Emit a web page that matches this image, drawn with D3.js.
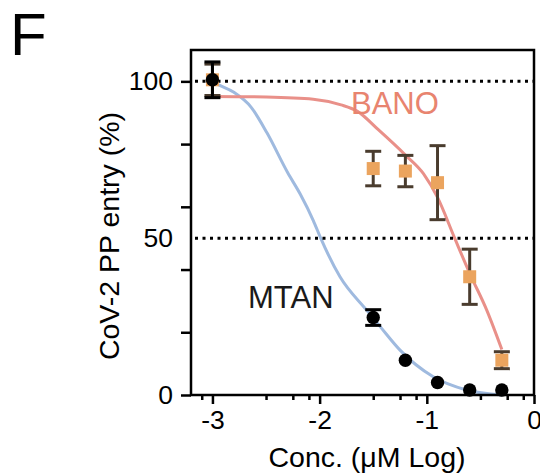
<!DOCTYPE html>
<html>
<head>
<meta charset="utf-8">
<script src="https://cdn.jsdelivr.net/npm/d3@7"></script>
<style>
  html, body { margin: 0; padding: 0; background: #fff; }
  svg { display: block; }
  text { font-family: "Liberation Sans", Arial, sans-serif; }
</style>
</head>
<body>
<svg id="chart" width="540" height="476"></svg>
<script>
// ---- data ----
const concLog = [-3, -1.5, -1.2, -0.9, -0.6, -0.3];
const mtanMean = [100.5, 24.7, 11.1, 4.0, 1.6, 1.6];
const mtanErr  = [5.7, 2.5, 0, 0, 0, 0];
const banoMean = [100.5, 72.2, 71.4, 67.7, 37.7, 11.1];
const banoErr  = [5.0, 5.5, 5.0, 11.8, 8.8, 2.7];

// fitted curves
const mtanCurveX = [-3, -2.96, -2.8, -2.64, -2.49, -2.3, -2.18, -2.06, -1.99, -1.81, -1.56, -1.435, -1.25, -0.94, -0.63, -0.3];
const mtanCurveY = [100, 99.2, 96.5, 91.8, 83.5, 71, 64, 55.7, 50, 37.7, 27, 21.8, 14.3, 5.8, 1.6, 0];
const banoCurveX = [-3, -2.5, -2.06, -1.8, -1.65, -1.45, -1.2, -1.03, -0.9, -0.74, -0.6, -0.44, -0.3];
const banoCurveY = [95.2, 95, 94.3, 92.5, 90.5, 84.5, 76.5, 70.5, 63, 50, 38.8, 27, 14.5];

const xMajorTicks = [-3, -2, -1, 0];
const xMinorTicks = [-3.1, -2.5, -2.25, -2.1, -1.5, -1.25, -1.1, -0.5, -0.25, -0.1];
const yTicks = [0, 20, 40, 60, 80, 100];
const yTickLabels = [0, 100];
const yMidLabel = [50];
const refLines = [100, 50];

// ---- layout ----
const svg = d3.select("#chart");
const pL = 191, pR = 534, pT = 50, pB = 395;
const x = d3.scaleLinear().domain([-3.2, 0]).range([pL, pR]);
const y = d3.scaleLinear().domain([0, 110]).range([pB, pT]);
const FS_TICK = 26.5, FS_TITLE = 28.5, FS_LABEL = 31;

// panel letter
svg.append("text").attr("x", 10).attr("y", 55)
  .attr("font-size", 60).attr("fill", "#000").text("F");

// curves
const line = d3.line().x(d => x(d[0])).y(d => y(d[1])).curve(d3.curveMonotoneX);
svg.append("path").datum(mtanCurveX.map((v, i) => [v, mtanCurveY[i]]))
  .attr("d", line).attr("fill", "none").attr("stroke", "#9fbadf").attr("stroke-width", 3);
svg.append("path").datum(banoCurveX.map((v, i) => [v, banoCurveY[i]]))
  .attr("d", line).attr("fill", "none").attr("stroke", "#e99089").attr("stroke-width", 3);

// dotted reference lines
svg.selectAll("line.ref").data(refLines).join("line")
  .attr("class", "ref")
  .attr("x1", pL + 4).attr("x2", pR)
  .attr("y1", d => y(d)).attr("y2", d => y(d))
  .attr("stroke", "#000").attr("stroke-width", 3)
  .attr("stroke-dasharray", "3,4.5");

// frame
svg.append("rect").attr("x", pL).attr("y", pT)
  .attr("width", pR - pL).attr("height", pB - pT)
  .attr("fill", "none").attr("stroke", "#000").attr("stroke-width", 2.5);

// axes
const xAxis = svg.append("g").attr("transform", `translate(0,${pB})`)
  .call(d3.axisBottom(x).tickValues(xMajorTicks).tickSize(9).tickPadding(6)
        .tickFormat(d => String(d)));
const xMinor = svg.append("g").attr("transform", `translate(0,${pB})`)
  .call(d3.axisBottom(x).tickValues(xMinorTicks).tickSize(5).tickFormat(""));
const yAxis = svg.append("g").attr("transform", `translate(${pL},0)`)
  .call(d3.axisLeft(y).tickValues(yTicks).tickSize(10).tickPadding(8)
        .tickFormat(d => yTickLabels.includes(d) ? String(d) : ""));
const yMid = svg.append("g").attr("transform", `translate(${pL},0)`)
  .call(d3.axisLeft(y).tickValues(yMidLabel).tickSize(0).tickPadding(18));
[xAxis, xMinor, yAxis, yMid].forEach(g => {
  g.select(".domain").remove();
  g.selectAll("line").attr("stroke", "#000").attr("stroke-width", 2.5);
  g.selectAll("text").attr("font-size", FS_TICK).attr("fill", "#000")
    .attr("font-family", "Liberation Sans, Arial, sans-serif");
});
yMid.selectAll("line").remove();

// axis titles
svg.append("text").attr("x", 367).attr("y", 467)
  .attr("text-anchor", "middle").attr("font-size", FS_TITLE).attr("fill", "#000")
  .text("Conc. (\u03bcM Log)");
svg.append("text")
  .attr("transform", "translate(119,236) rotate(-90)")
  .attr("text-anchor", "middle").attr("font-size", FS_TITLE).attr("fill", "#000")
  .text("CoV-2 PP entry (%)");

// series labels
svg.append("text").attr("x", 351).attr("y", 114)
  .attr("font-size", FS_LABEL).attr("fill", "#e8846f").text("BANO");
svg.append("text").attr("x", 248).attr("y", 308)
  .attr("font-size", FS_LABEL).attr("fill", "#1a1a1a").text("MTAN");

// error bars
function errBars(means, errs, color) {
  const g = svg.append("g");
  const d = concLog.map((c, i) => ({ c, m: means[i], e: errs[i] })).filter(p => p.e > 0);
  g.selectAll("line.v").data(d).join("line")
    .attr("x1", p => x(p.c)).attr("x2", p => x(p.c))
    .attr("y1", p => y(p.m + p.e)).attr("y2", p => y(p.m - p.e))
    .attr("stroke", color).attr("stroke-width", 3);
  [1, -1].forEach(s => {
    g.append("g").selectAll("line").data(d).join("line")
      .attr("x1", p => x(p.c) - 8).attr("x2", p => x(p.c) + 8)
      .attr("y1", p => y(p.m + s * p.e))
      .attr("y2", p => y(p.m + s * p.e))
      .attr("stroke", color).attr("stroke-width", 3);
  });
}
errBars(banoMean, banoErr, "#4a3c2e");

// BANO squares
svg.append("g").selectAll("rect").data(concLog.map((c, i) => [c, banoMean[i]])).join("rect")
  .attr("x", d => x(d[0]) - 6.5).attr("y", d => y(d[1]) - 6.5)
  .attr("width", 13).attr("height", 13).attr("fill", "#eba45e");

errBars(mtanMean, mtanErr, "#000");

// MTAN circles
svg.append("g").selectAll("circle").data(concLog.map((c, i) => [c, mtanMean[i]])).join("circle")
  .attr("cx", d => x(d[0])).attr("cy", d => y(d[1])).attr("r", 6.7).attr("fill", "#000");
</script>
</body>
</html>
